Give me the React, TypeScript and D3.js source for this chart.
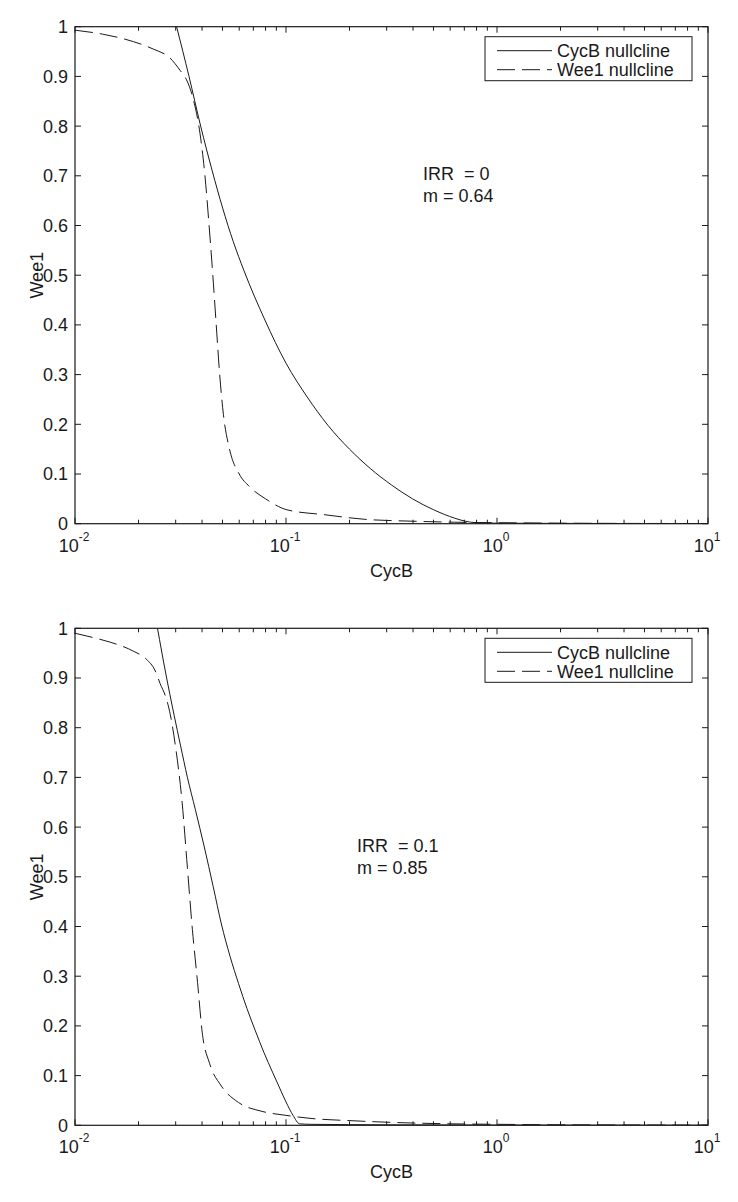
import React from 'react'
import * as d3 from 'd3'

// x ticks (log decades) and y ticks
const xDecades = [0.01, 0.1, 1, 10]
const xDecadeExp = ['-2', '-1', '0', '1']
const yTicks = [0, 0.1, 0.2, 0.3, 0.4, 0.5, 0.6, 0.7, 0.8, 0.9, 1]
const yTickLabels = ['0', '0.1', '0.2', '0.3', '0.4', '0.5', '0.6', '0.7', '0.8', '0.9', '1']
const legendLabels = ['CycB nullcline', 'Wee1 nullcline']

// top panel (IRR = 0)
const topCycBX = [0.0303, 0.0347, 0.0394, 0.0447, 0.0501, 0.0562, 0.0631, 0.0794, 0.1, 0.126, 0.158, 0.2, 0.251, 0.316, 0.398, 0.501, 0.631, 0.708, 0.794, 1, 2, 5, 10]
const topCycBY = [1.0, 0.9, 0.8, 0.71, 0.635, 0.568, 0.51, 0.41, 0.323, 0.255, 0.198, 0.15, 0.111, 0.078, 0.05, 0.028, 0.011, 0.005, 0.002, 0.001, 0.0006, 0.0003, 0.0002]
const topWee1X = [0.01, 0.0135, 0.0189, 0.0235, 0.0282, 0.0315, 0.0338, 0.0364, 0.0391, 0.0413, 0.0432, 0.045, 0.0467, 0.0485, 0.0505, 0.054, 0.060, 0.067, 0.08, 0.101, 0.153, 0.234, 0.4, 0.63, 1, 2, 5, 10]
const topWee1Y = [0.993, 0.985, 0.970, 0.955, 0.937, 0.912, 0.893, 0.853, 0.786, 0.70, 0.60, 0.50, 0.40, 0.30, 0.22, 0.15, 0.10, 0.075, 0.05, 0.028, 0.018, 0.009, 0.005, 0.003, 0.002, 0.001, 0.0005, 0.0003]

// bottom panel (IRR = 0.1)
const botCycBX = [0.0246, 0.0269, 0.0295, 0.0316, 0.0341, 0.0372, 0.041, 0.0452, 0.0494, 0.0543, 0.0596, 0.0653, 0.0716, 0.0785, 0.0863, 0.0933, 0.1, 0.108, 0.116, 0.13, 0.3, 1, 10]
const botCycBY = [1.0, 0.91, 0.825, 0.765, 0.70, 0.635, 0.56, 0.48, 0.405, 0.34, 0.285, 0.235, 0.19, 0.147, 0.107, 0.075, 0.047, 0.02, 0.003, 0.002, 0.001, 0.0005, 0.0002]
const botWee1X = [0.01, 0.0131, 0.0147, 0.0189, 0.0219, 0.0239, 0.0253, 0.0272, 0.0283, 0.0299, 0.0322, 0.0341, 0.036, 0.0381, 0.0401, 0.0434, 0.0494, 0.0595, 0.077, 0.1, 0.13, 0.21, 0.37, 0.6, 1, 2, 5, 10]
const botWee1Y = [0.99, 0.978, 0.972, 0.954, 0.937, 0.916, 0.889, 0.856, 0.826, 0.764, 0.649, 0.518, 0.394, 0.287, 0.186, 0.125, 0.079, 0.046, 0.028, 0.02, 0.014, 0.009, 0.005, 0.003, 0.002, 0.001, 0.0005, 0.0003]

const FONT = '"Liberation Sans", Arial, Helvetica, sans-serif'
const INK = '#1a1a1a'
const DASH = '18,7'

const zip = (xs: number[], ys: number[]) => xs.map((x, i) => [x, ys[i]] as [number, number])

type PanelProps = {
  top: number
  cycb: [number, number][]
  wee1: [number, number][]
  note: string[]
  noteX: number
  noteY: number
  id: string
}

const Panel = ({ top, cycb, wee1, note, noteX, noteY, id }: PanelProps) => {
  const left = 75
  const right = 708
  const h = 497
  const bottom = top + h

  const x = d3.scaleLog().domain([0.01, 10]).range([left, right])
  const y = d3.scaleLinear().domain([0, 1]).range([bottom, top])

  const line = d3.line<[number, number]>()
    .x(d => x(d[0]))
    .y(d => y(d[1]))
    .curve(d3.curveMonotoneX)

  const minor: number[] = []
  xDecades.slice(0, -1).forEach(d => {
    for (let k = 2; k <= 9; k++) minor.push(d * k)
  })

  const legX = 485
  const legY = top + 10
  const legW = 207
  const legH = 44

  return (
    <g>
      <defs>
        <clipPath id={id}>
          <rect x={left} y={top} width={right - left} height={h} />
        </clipPath>
      </defs>

      {/* curves */}
      <g clipPath={`url(#${id})`} fill="none" stroke={INK} strokeWidth={1}>
        <path d={line(cycb) || ''} />
        <path d={line(wee1) || ''} strokeDasharray={DASH} />
      </g>

      {/* axes box */}
      <rect x={left} y={top} width={right - left} height={h} fill="none" stroke={INK} strokeWidth={1.2} />

      {/* y ticks */}
      {yTicks.map((t, i) => (
        <g key={'y' + i}>
          <line x1={left} x2={left + 6} y1={y(t)} y2={y(t)} stroke={INK} />
          <line x1={right} x2={right - 6} y1={y(t)} y2={y(t)} stroke={INK} />
          <text x={left - 7} y={y(t)} dy="0.36em" textAnchor="end" fontSize={18} fill={INK}>{yTickLabels[i]}</text>
        </g>
      ))}

      {/* x ticks */}
      {xDecades.map((t, i) => (
        <g key={'x' + i}>
          <line x1={x(t)} x2={x(t)} y1={bottom} y2={bottom - 6} stroke={INK} />
          <line x1={x(t)} x2={x(t)} y1={top} y2={top + 6} stroke={INK} />
          <text x={x(t) - 1} y={bottom + 28} textAnchor="middle" fontSize={18} fill={INK}>
            10<tspan fontSize={12} dy={-11}>{xDecadeExp[i]}</tspan>
          </text>
        </g>
      ))}
      {minor.map((t, i) => (
        <g key={'m' + i}>
          <line x1={x(t)} x2={x(t)} y1={bottom} y2={bottom - 4} stroke={INK} />
          <line x1={x(t)} x2={x(t)} y1={top} y2={top + 4} stroke={INK} />
        </g>
      ))}

      {/* axis labels */}
      <text x={(left + right) / 2} y={bottom + 53} textAnchor="middle" fontSize={18} fill={INK}>CycB</text>
      <text transform={`translate(43,${(top + bottom) / 2}) rotate(-90)`} textAnchor="middle" fontSize={18} fill={INK}>Wee1</text>

      {/* legend */}
      <rect x={legX} y={legY} width={legW} height={legH} fill="#fff" stroke={INK} strokeWidth={1} />
      {legendLabels.map((lab, i) => (
        <g key={lab}>
          <line x1={legX + 12} x2={legX + 67} y1={legY + 14 + i * 19} y2={legY + 14 + i * 19}
            stroke={INK} strokeDasharray={i === 1 ? DASH : undefined} />
          <text x={legX + 72} y={legY + 14 + i * 19} dy="0.36em" fontSize={18} fill={INK}>{lab}</text>
        </g>
      ))}

      {/* annotation */}
      {note.map((s, i) => (
        <text key={s} x={noteX} y={noteY + i * 22} fontSize={18} fill={INK} xmlSpace="preserve">{s}</text>
      ))}
    </g>
  )
}

export default function App() {
  return (
    <div style={{ position: 'absolute', left: 0, top: 0 }}>
      <svg width={738} height={1202} style={{ display: 'block', background: '#fff', fontFamily: FONT }}>
        <Panel id="c1" top={26.7} cycb={zip(topCycBX, topCycBY)} wee1={zip(topWee1X, topWee1Y)}
          note={['IRR  = 0', 'm = 0.64']} noteX={423} noteY={180} />
        <Panel id="c2" top={628.3} cycb={zip(botCycBX, botCycBY)} wee1={zip(botWee1X, botWee1Y)}
          note={['IRR  = 0.1', 'm = 0.85']} noteX={357} noteY={852} />
      </svg>
    </div>
  )
}
